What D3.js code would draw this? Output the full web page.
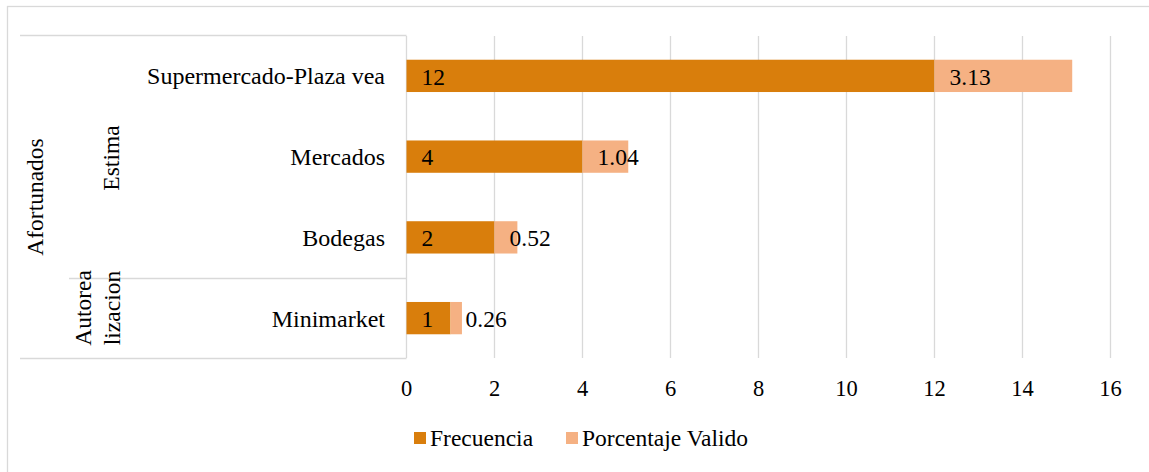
<!DOCTYPE html>
<html lang="es">
<head>
  <meta charset="utf-8" />
  <title>Frecuencia</title>
  <script src="https://d3js.org/d3.v7.min.js"></script>
  <style>
    body { margin: 0; background: #fff; }
    svg { font-family: "Liberation Serif", "Times New Roman", serif; }
    .grid line { stroke: #d9d9d9; stroke-width: 1.3px; }
    .frame { fill: none; stroke: #d9d9d9; stroke-width: 1.3px; }
  </style>
</head>
<body>
<svg id="chart" width="1149" height="472"></svg>
<script>
// data
var categories = ["Supermercado-Plaza vea", "Mercados", "Bodegas", "Minimarket"];
var frecuencia = [12, 4, 2, 1];
var porcentaje = [3.13, 1.04, 0.52, 0.26];
var porcentajeLabels = ["3.13", "1.04", "0.52", "0.26"];
var ticks = [0, 2, 4, 6, 8, 10, 12, 14, 16];
var seriesNames = ["Frecuencia", "Porcentaje Valido"];
var colors = ["#d97e0c", "#f5b183"];

var fs = 23.5;
var svg = d3.select("#chart");

// outer chart border (cut by the page edge on right/bottom)
svg.append("rect").attr("class", "frame")
  .attr("x", 7.5).attr("y", 6.5).attr("width", 1160).attr("height", 480);

var x = d3.scaleLinear().domain([0, 16]).range([406.5, 1110.5]);
var y = d3.scaleBand().domain(categories).range([35.5, 358.5]).paddingInner(0.6).paddingOuter(0.3);

// gridlines
svg.append("g").attr("class", "grid")
  .selectAll("line").data(ticks).enter().append("line")
  .attr("x1", function(d) { return x(d); })
  .attr("x2", function(d) { return x(d); })
  .attr("y1", 36).attr("y2", 358);

// category table lines
var tbl = svg.append("g").attr("class", "grid");
tbl.append("line").attr("x1", 20).attr("x2", 406.5).attr("y1", 35.5).attr("y2", 35.5);
tbl.append("line").attr("x1", 20).attr("x2", 406.5).attr("y1", 358.5).attr("y2", 358.5);
tbl.append("line").attr("x1", 69).attr("x2", 406.5).attr("y1", 278.5).attr("y2", 278.5);

// bars
var stack = categories.map(function(c, i) {
  return { cat: c, f: frecuencia[i], p: porcentaje[i], pl: porcentajeLabels[i] };
});

var g = svg.append("g");
g.selectAll("rect.f").data(stack).enter().append("rect")
  .attr("class", "f")
  .attr("x", x(0))
  .attr("y", function(d) { return y(d.cat); })
  .attr("width", function(d) { return x(d.f) - x(0); })
  .attr("height", y.bandwidth())
  .attr("fill", colors[0]);

g.selectAll("rect.p").data(stack).enter().append("rect")
  .attr("class", "p")
  .attr("x", function(d) { return x(d.f); })
  .attr("y", function(d) { return y(d.cat); })
  .attr("width", function(d) { return x(d.f + d.p) - x(d.f); })
  .attr("height", y.bandwidth())
  .attr("fill", colors[1]);

// data labels
g.selectAll("text.fl").data(stack).enter().append("text")
  .attr("x", x(0) + 15)
  .attr("y", function(d) { return y(d.cat) + y.bandwidth() / 2; })
  .attr("dy", "0.37em")
  .attr("font-size", fs).attr("fill", "#000")
  .text(function(d) { return d.f; });

g.selectAll("text.pl").data(stack).enter().append("text")
  .attr("x", function(d) { return x(d.f) + 15; })
  .attr("y", function(d) { return y(d.cat) + y.bandwidth() / 2; })
  .attr("dy", "0.37em")
  .attr("font-size", fs).attr("fill", "#000")
  .text(function(d) { return d.pl; });

// category labels
svg.append("g").selectAll("text").data(categories).enter().append("text")
  .attr("x", 385)
  .attr("y", function(d) { return y(d) + y.bandwidth() / 2; })
  .attr("dy", "0.35em")
  .attr("text-anchor", "end")
  .attr("font-size", 24)
  .text(function(d) { return d; });

// group labels (rotated)
function vlabel(tx, ty, lines) {
  var t = svg.append("text")
    .attr("transform", "translate(" + tx + "," + ty + ") rotate(-90)")
    .attr("text-anchor", "middle")
    .attr("font-size", fs);
  lines.forEach(function(s, i) {
    t.append("tspan").attr("x", 0).attr("dy", i === 0 ? 0 : "1.25em").text(s);
  });
}
vlabel(43, 197, ["Afortunados"]);
vlabel(119, 158, ["Estima"]);
vlabel(91, 308, ["Autorea", "lizacion"]);

// x axis tick labels
svg.append("g").selectAll("text").data(ticks).enter().append("text")
  .attr("x", function(d) { return x(d); })
  .attr("y", 395.5)
  .attr("text-anchor", "middle")
  .attr("font-size", 22.5)
  .text(function(d) { return d; });

// legend
var lg = svg.append("g");
var lx = [414, 566];
seriesNames.forEach(function(s, i) {
  lg.append("rect").attr("x", lx[i]).attr("y", 432).attr("width", 12).attr("height", 12).attr("fill", colors[i]);
  lg.append("text").attr("x", lx[i] + 16).attr("y", 446)
    .attr("font-size", fs).text(s);
});
</script>
</body>
</html>
